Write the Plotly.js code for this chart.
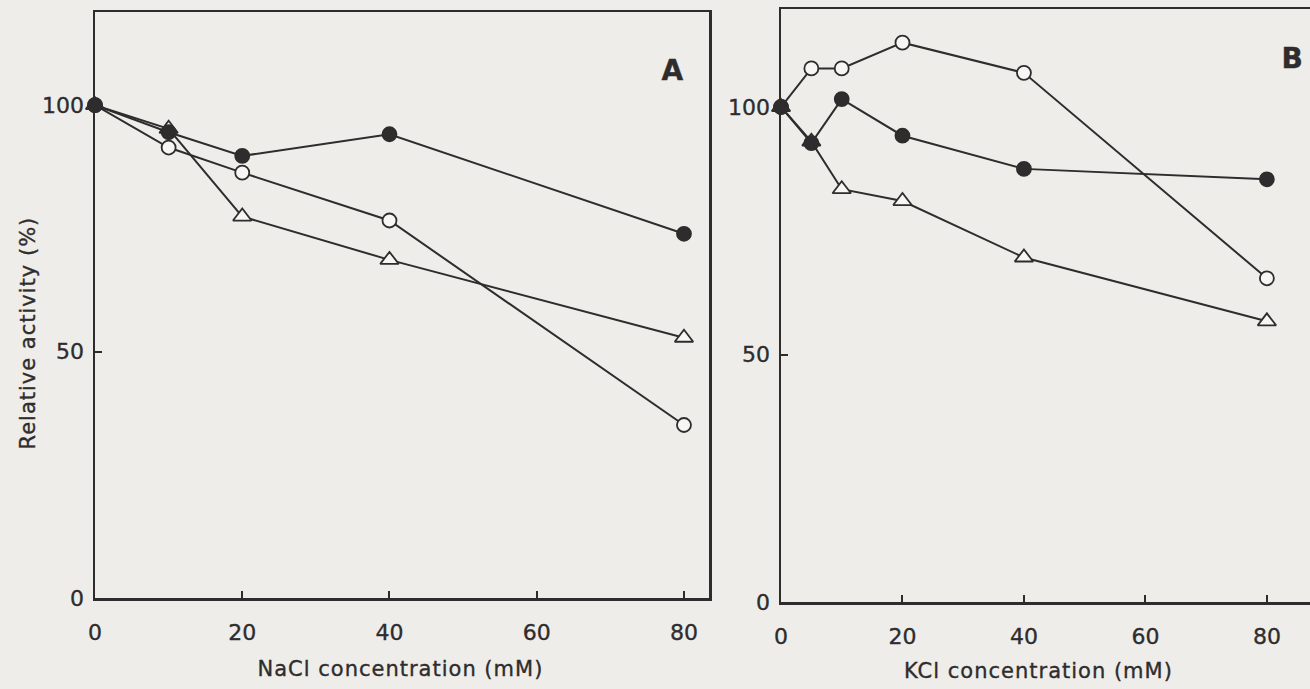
<!DOCTYPE html>
<html>
<head>
<meta charset="utf-8">
<script src="https://cdn.plot.ly/plotly-3.0.1.min.js"></script>
<style>
  html, body { margin: 0; padding: 0; background: #eeedea; }
  #chart { width: 1310px; height: 689px; }
  /* printed lettering: slightly heavy strokes, titles widely tracked */
  #chart svg text { stroke: #2e2c2c; stroke-width: 0.35px; }
  #chart svg .annotation-text { letter-spacing: 1px; }
</style>
</head>
<body>
<div id="chart"></div>
<script>
// Panel A: NaCl series
const naclConc = [0, 10, 20, 40, 80];
const naclFilled = [100, 94.5, 89.7, 94.1, 73.9];
const naclOpen = [100, 91.4, 86.3, 76.6, 35.1];
const naclTriangle = [100, 95.2, 77.4, 68.6, 52.8];

// Panel B: KCl series
const kclConc = [0, 5, 10, 20, 40, 80];
const kclOpen = [100, 107.8, 107.8, 113.0, 106.9, 65.4];
const kclFilled = [100, 92.7, 101.6, 94.2, 87.5, 85.4];
const kclTriangle = [100, 93.0, 83.4, 81.0, 69.6, 56.7];

const xTicks = [0, 20, 40, 60, 80];
const yTicks = [0, 50, 100];

const ink = '#2e2c2c';
const paper = '#eeedea';
const font = 'DejaVu Sans, Liberation Sans, Arial, sans-serif';

function series(x, y, symbol, filled, xa, ya) {
  return {
    x: x, y: y, xaxis: xa, yaxis: ya,
    type: 'scatter', mode: 'lines+markers', cliponaxis: false,
    line: {color: ink, width: 2},
    marker: {
      symbol: symbol,
      size: symbol === 'triangle-up' ? 16 : 14,
      color: filled ? ink : '#f7f6f4',
      line: {color: ink, width: 1.8}
    },
    showlegend: false, hoverinfo: 'x+y'
  };
}

// Open shapes first so the filled symbols sit on top at shared points
const data = [
  series(naclConc, naclOpen, 'circle', false, 'x', 'y'),
  series(naclConc, naclTriangle, 'triangle-up', false, 'x', 'y'),
  series(naclConc, naclFilled, 'circle', true, 'x', 'y'),
  series(kclConc, kclOpen, 'circle', false, 'x2', 'y2'),
  series(kclConc, kclTriangle, 'triangle-up', false, 'x2', 'y2'),
  series(kclConc, kclFilled, 'circle', true, 'x2', 'y2')
];

const W = 1310, H = 689;
function axisX(domainPx, range, mirror) {
  return {
    domain: [domainPx[0] / W, domainPx[1] / W], range: range,
    tickvals: xTicks, ticks: 'inside', ticklen: 7, tickwidth: 2, tickcolor: ink,
    showline: true, linecolor: ink, linewidth: 2.5, mirror: mirror,
    showgrid: false, zeroline: false, ticklabelstandoff: 13,
    tickfont: {family: font, size: 22, color: ink}, fixedrange: true
  };
}
function axisY(topPx, bottomPx, range, mirror, anchor) {
  return {
    domain: [(H - bottomPx) / H, (H - topPx) / H], range: range, anchor: anchor,
    tickvals: yTicks, ticks: 'inside', ticklen: 7, tickwidth: 2, tickcolor: ink,
    showline: true, linecolor: ink, linewidth: 2.5, mirror: mirror,
    showgrid: false, zeroline: false, ticklabelstandoff: 4,
    tickfont: {family: font, size: 22, color: ink}, fixedrange: true
  };
}

function label(text, xPx, yPx, size, bold, angle) {
  return {
    text: text, xref: 'paper', yref: 'paper', x: xPx / W, y: (H - yPx) / H,
    xanchor: 'center', yanchor: 'middle', showarrow: false, textangle: angle || 0,
    font: {family: font, size: size, color: ink, weight: bold ? 'bold' : 'normal'}
  };
}

const layout = {
  width: W, height: H,
  margin: {l: 0, r: 0, t: 0, b: 0},
  paper_bgcolor: paper, plot_bgcolor: paper,
  xaxis: Object.assign(axisX([95, 709], [0, 83.4], true), {anchor: 'y'}),
  yaxis: axisY(12, 598, [0, 118.9], true, 'x'),
  xaxis2: Object.assign(axisX([781, 1310], [0, 87.1], true), {anchor: 'y2'}),
  yaxis2: axisY(9, 602, [0, 119.8], false, 'x2'),
  annotations: [
    label('A', 673, 70, 28, true),
    label('B', 1292, 58, 28, true),
    label('NaCl concentration (mM)', 400, 669, 21, false),
    label('KCl concentration (mM)', 1038, 671, 21, false),
    label('Relative activity (%)', 28, 333, 21, false, -90)
  ]
};

Plotly.newPlot('chart', data, layout, {displayModeBar: false, staticPlot: true});
</script>
</body>
</html>
